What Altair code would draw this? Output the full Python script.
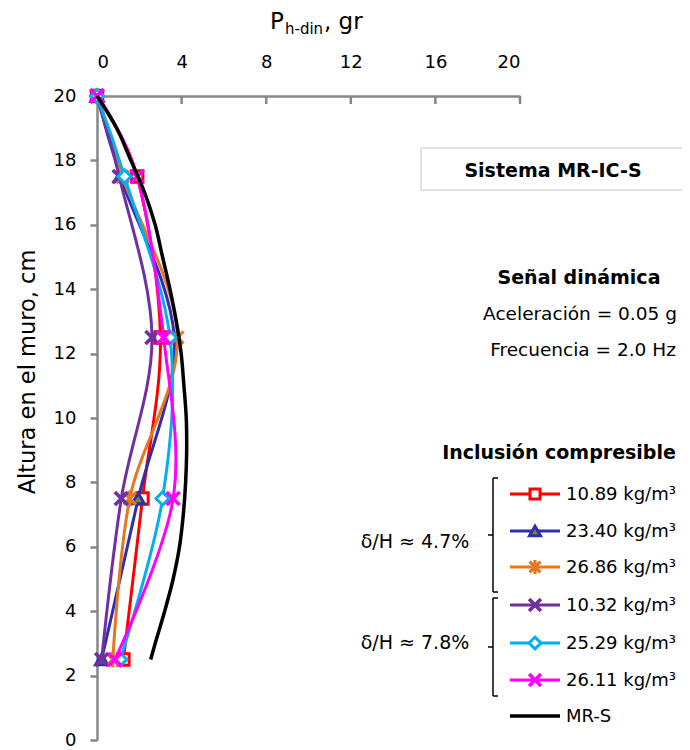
import altair as alt
import pandas as pd

FONT = "DejaVu Sans"

# ---------------- data ----------------
heights = [20, 17.5, 12.5, 7.5, 2.5]
series_names = ["10.89 kg/m³", "23.40 kg/m³", "26.86 kg/m³",
                "10.32 kg/m³", "25.29 kg/m³", "26.11 kg/m³"]
red_vals = [0, 1.9, 3.0, 2.15, 1.25]
blue_vals = [0, 1.1, 3.65, 1.95, 0.22]
orange_vals = [0, 1.2, 3.8, 1.55, 0.75]
purple_vals = [0, 1.05, 2.6, 1.15, 0.22]
cyan_vals = [0, 1.3, 3.45, 3.1, 1.1]
magenta_vals = [0, 1.9, 3.15, 3.6, 0.85]

mrs_name = "MR-S"
mrs_heights = [20, 19, 18, 17, 16, 15, 14, 13, 12, 11, 10, 9, 8, 7, 6, 5, 4, 3, 2.5]
mrs_vals = [0, 0.93, 1.6, 2.25, 2.75, 3.1, 3.45, 3.75, 3.98, 4.11, 4.22, 4.24,
            4.19, 4.08, 3.9, 3.6, 3.2, 2.75, 2.54]

x_ticks = [0, 4, 8, 12, 16, 20]
y_ticks = list(range(0, 21, 2))

# ---------------- styles ----------------
X_PATH = "M-1,-1L1,1M-1,1L1,-1"
AST_PATH = "M-1,-1L1,1M-1,1L1,-1M0,-1.3L0,1.3"
styles = [
    dict(color="#FF0000", shape="square", fill="white", size=130, lsize=100, sw=3),
    dict(color="#2E2EB0", shape="triangle-up", fill="#7A8A3A", size=150, lsize=120, sw=3),
    dict(color="#E8761E", shape=AST_PATH, fill="transparent", size=150, lsize=120, sw=3.2),
    dict(color="#7030A0", shape=X_PATH, fill="transparent", size=170, lsize=140, sw=3.6),
    dict(color="#00B0F0", shape="diamond", fill="white", size=170, lsize=140, sw=3),
    dict(color="#FF00FF", shape=X_PATH, fill="transparent", size=170, lsize=140, sw=3.6),
]
all_vals = [red_vals, blue_vals, orange_vals, purple_vals, cyan_vals, magenta_vals]

AXIS_GRAY = "#878787"
x_axis = alt.Axis(orient="top", values=x_ticks, title=None, ticks=False,
                  labelFontSize=18, labelPadding=25, labelFont=FONT,
                  labelColor="black", domainColor=AXIS_GRAY, domainWidth=2.5,
                  grid=False)
y_axis = alt.Axis(values=y_ticks, title=None, tickSize=7, tickColor=AXIS_GRAY,
                  tickWidth=2.5, domainColor=AXIS_GRAY, domainWidth=2.5,
                  labelFontSize=18, labelPadding=14, labelFont=FONT,
                  labelColor="black", grid=False)
x_enc = alt.X("p:Q", scale=alt.Scale(domain=[0, 20], nice=False), axis=x_axis)
y_enc = alt.Y("h:Q", scale=alt.Scale(domain=[0, 20], nice=False), axis=y_axis)

one = alt.Data(values=[{"a": 1}])

layers = []

# inward ticks of the top axis
tick_df = pd.DataFrame({"p": x_ticks[1:]})
layers.append(
    alt.Chart(tick_df).mark_rule(color=AXIS_GRAY, strokeWidth=2.5)
    .encode(x=x_enc, y=alt.value(0), y2=alt.value(8))
)

for name, vals, st in zip(series_names, all_vals, styles):
    df = pd.DataFrame({"h": heights, "p": vals, "idx": range(len(heights)),
                       "serie": name})
    layers.append(
        alt.Chart(df).mark_line(interpolate="cardinal", color=st["color"],
                                strokeWidth=3)
        .encode(x=x_enc, y=y_enc, order="idx:Q")
    )
    layers.append(
        alt.Chart(df).mark_point(shape=st["shape"], size=st["size"],
                                 stroke=st["color"], fill=st["fill"],
                                 strokeWidth=st["sw"], opacity=1,
                                 fillOpacity=1, filled=False)
        .encode(x=x_enc, y=y_enc)
    )

mrs_df = pd.DataFrame({"h": mrs_heights, "p": mrs_vals,
                       "idx": range(len(mrs_heights))})
layers.append(
    alt.Chart(mrs_df).mark_line(interpolate="cardinal", color="black",
                                strokeWidth=3.5)
    .encode(x=x_enc, y=y_enc, order="idx:Q")
)


# ---------------- helper annotations (positions in pixels) ----------------
def txt(s, x, y, size=16, bold=False, align="center", angle=0):
    return alt.Chart(one).mark_text(
        text=s, font=FONT, fontSize=size, fontWeight="bold" if bold else "normal",
        align=align, baseline="middle", angle=angle, color="black"
    ).encode(x=alt.value(x), y=alt.value(y))


def rule(x1, y1, x2, y2, color="black", w=1.5):
    return alt.Chart(one).mark_rule(color=color, strokeWidth=w).encode(
        x=alt.value(x1), y=alt.value(y1), x2=alt.value(x2), y2=alt.value(y2))


# axis titles
layers.append(txt("P", 173, -74, size=23, align="left"))
layers.append(txt("h-din", 188, -67, size=15, align="left"))
layers.append(txt(", gr", 227, -74, size=23, align="left"))
layers.append(txt("Altura en el muro, cm", -69, 276, size=22.5, angle=270))

# Sistema box
layers.append(
    alt.Chart(one).mark_rect(fill="white", stroke="#D9D9D9", strokeWidth=1.5)
    .encode(x=alt.value(324), x2=alt.value(590), y=alt.value(52), y2=alt.value(94))
)
layers.append(txt("Sistema MR-IC-S", 456, 75, size=19, bold=True))

# Señal dinámica
layers.append(txt("Señal dinámica", 482, 182, size=19, bold=True))
layers.append(txt("Aceleración = 0.05 g", 483, 218, size=18.5))
layers.append(txt("Frecuencia = 2.0 Hz", 486, 254, size=18.5))

# legend
layers.append(txt("Inclusión compresible", 462, 357, size=19, bold=True))
leg_y = [398, 435, 471, 509, 547, 584]
for name, st, yy in zip(series_names, styles, leg_y):
    layers.append(rule(413, yy, 463, yy, color=st["color"], w=3))
    layers.append(
        alt.Chart(one).mark_point(shape=st["shape"], size=st["lsize"],
                                  stroke=st["color"], fill=st["fill"],
                                  strokeWidth=st["sw"], opacity=1,
                                  fillOpacity=1, filled=False)
        .encode(x=alt.value(438), y=alt.value(yy))
    )
    layers.append(txt(name, 469, yy + 1, size=18, align="left"))
layers.append(rule(413, 620, 463, 620, color="black", w=3.5))
layers.append(txt(mrs_name, 469, 621, size=18, align="left"))

# brackets
for top, bot, mid in [(382, 496, 439), (502, 600, 551)]:
    layers.append(rule(396, top, 396, bot))
    layers.append(rule(396, top, 401, top))
    layers.append(rule(396, bot, 401, bot))
    layers.append(rule(391, mid, 396, mid))
layers.append(txt("δ/H ≈ 4.7%", 318, 446, size=19))
layers.append(txt("δ/H ≈ 7.8%", 318, 547, size=19))

chart = alt.layer(*layers).properties(
    width=423, height=644,
    autosize=alt.AutoSizeParams(type="none"),
    padding={"left": 89, "top": 88, "right": 162, "bottom": 14},
).configure_view(strokeWidth=0)

chart.save("out.html", embed_options={"renderer": "svg", "actions": False})
